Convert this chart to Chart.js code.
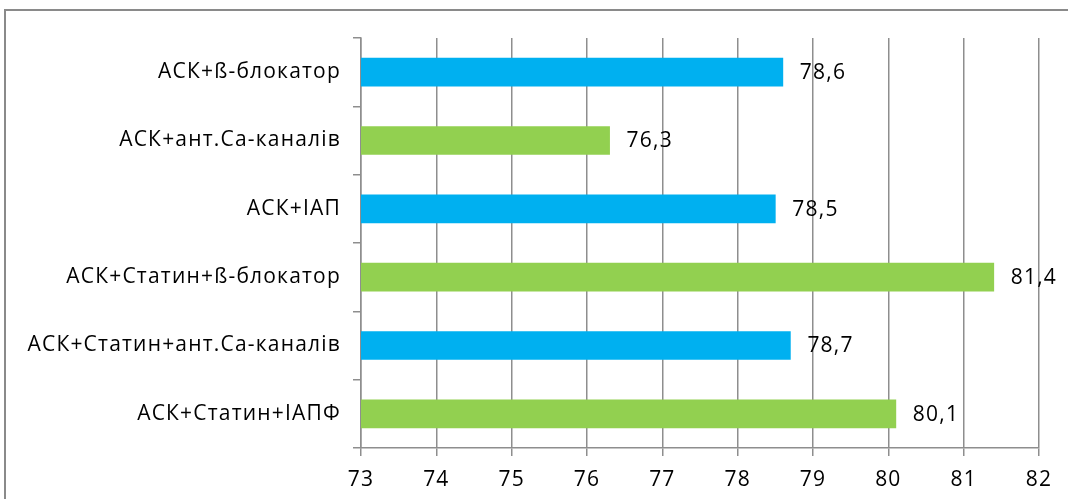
<!DOCTYPE html>
<html>
<head>
<meta charset="utf-8">
<script src="https://cdn.jsdelivr.net/npm/chart.js@4.4.1/dist/chart.umd.min.js"></script>
<style>
  html, body { margin: 0; padding: 0; background: #ffffff; }
  #wrap { position: relative; width: 1068px; height: 499px; }
</style>
</head>
<body>
<div id="wrap"><canvas id="c" width="1068" height="499"></canvas></div>
<script>
// Therapy combinations and their values
const categories = [
  'АСК+ß-блокатор',
  'АСК+ант.Са-каналів',
  'АСК+ІАП',
  'АСК+Статин+ß-блокатор',
  'АСК+Статин+ант.Са-каналів',
  'АСК+Статин+ІАПФ'
];
const values = [78.6, 76.3, 78.5, 81.4, 78.7, 80.1];
const barColors = ['#00B0F0', '#92D050', '#00B0F0', '#92D050', '#00B0F0', '#92D050'];
const xTicks = [73, 74, 75, 76, 77, 78, 79, 80, 81, 82];

const FONT = '"Open Sans", "Noto Sans", sans-serif';
const GRID = '#8e8e8e';

// Outer frame around the chart; also widens the text tracking slightly
const framePlugin = {
  id: 'frame',
  beforeDraw(chart) {
    const ctx = chart.ctx;
    ctx.letterSpacing = '1.2px';
    ctx.save();
    ctx.strokeStyle = '#8a8a8a';
    ctx.lineWidth = 2;
    ctx.strokeRect(5, 10, 1080, 520);
    ctx.restore();
  }
};

// Value labels to the right of each bar
const valueLabels = {
  id: 'valueLabels',
  afterDatasetsDraw(chart) {
    const ctx = chart.ctx;
    const meta = chart.getDatasetMeta(0);
    ctx.save();
    ctx.font = '21px ' + FONT;
    ctx.fillStyle = '#000000';
    ctx.textAlign = 'left';
    ctx.textBaseline = 'middle';
    meta.data.forEach((bar, i) => {
      const txt = values[i].toFixed(1).replace('.', ',');
      ctx.fillText(txt, bar.x + 17, bar.y + 1);
    });
    ctx.restore();
  }
};

new Chart(document.getElementById('c'), {
  type: 'bar',
  data: {
    labels: categories,
    datasets: [{
      data: values,
      backgroundColor: barColors,
      borderWidth: 0,
      barThickness: 28
    }]
  },
  options: {
    indexAxis: 'y',
    responsive: false,
    animation: false,
    layout: { padding: { top: 38, right: 29, left: 0, bottom: 0 } },
    plugins: {
      legend: { display: false },
      tooltip: { enabled: false }
    },
    scales: {
      x: {
        min: 73,
        max: 82,
        afterBuildTicks(scale) {
          scale.ticks = xTicks.map(v => ({ value: v }));
        },
        afterFit(scale) { scale.height = 51; },
        grid: {
          color: GRID,
          lineWidth: 1.5,
          tickLength: 8,
          drawTicks: true
        },
        border: { display: true, color: GRID, width: 1.5 },
        ticks: {
          color: '#000000',
          font: { family: FONT, size: 21 },
          padding: 11,
          maxRotation: 0
        }
      },
      y: {
        afterFit(scale) { scale.width = 361; },
        grid: {
          offset: true,
          drawOnChartArea: false,
          color: GRID,
          lineWidth: 1.5,
          tickLength: 8
        },
        border: { display: true, color: GRID, width: 1.5 },
        ticks: {
          color: '#000000',
          font: { family: FONT, size: 21 },
          padding: 12
        }
      }
    }
  },
  plugins: [framePlugin, valueLabels]
});
</script>
</body>
</html>
